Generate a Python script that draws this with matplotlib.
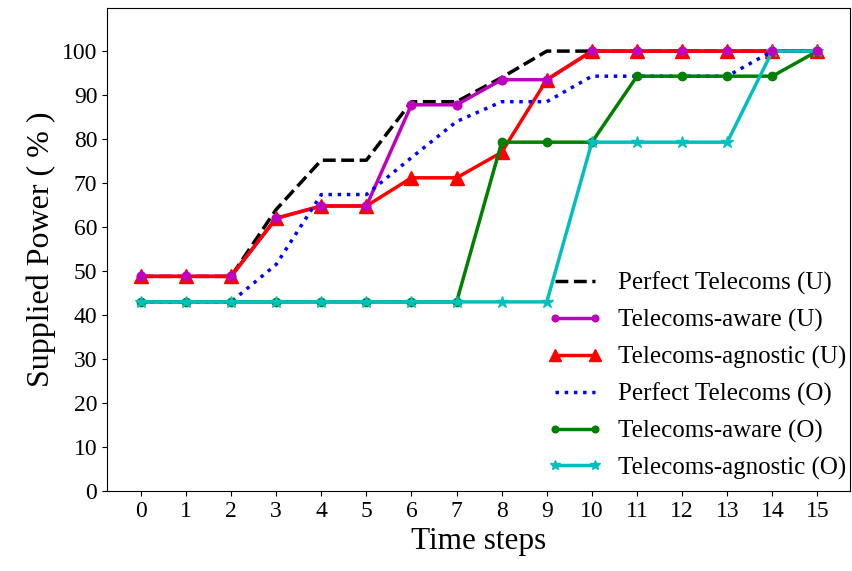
import matplotlib
matplotlib.use('Agg')
import matplotlib.pyplot as plt

# datos
pasos = list(range(16))
perfect_u = [48.8, 48.8, 48.8, 64, 75.2, 75.2, 88.5, 88.5, 94, 100, 100, 100, 100, 100, 100, 100]
aware_u = [48.8, 48.8, 48.8, 62, 64.8, 64.8, 87.8, 87.8, 93.5, 93.5, 100, 100, 100, 100, 100, 100]
agnostic_u = [48.8, 48.8, 48.8, 62, 64.8, 64.8, 71.2, 71.2, 77, 93.5, 100, 100, 100, 100, 100, 100]
perfect_o = [43, 43, 43, 51.5, 67.4, 67.4, 75.8, 84, 88.5, 88.5, 94.3, 94.3, 94.3, 94.3, 100, 100]
aware_o = [43, 43, 43, 43, 43, 43, 43, 43, 79.3, 79.3, 79.3, 94.3, 94.3, 94.3, 94.3, 100]
agnostic_o = [43, 43, 43, 43, 43, 43, 43, 43, 43, 43, 79.3, 79.3, 79.3, 79.3, 100, 100]

plt.rcParams['font.family'] = 'Liberation Serif'

fig = plt.figure(figsize=(8.52, 5.71), dpi=100)
ax = fig.add_axes([0.1256, 0.140, 0.872, 0.846])

ax.plot(pasos, perfect_u, '--', color='black', lw=2.5, label='Perfect Telecoms (U)')
ax.plot(pasos, aware_u, '-o', color='m', lw=2.5, ms=6, label='Telecoms-aware (U)')
ax.plot(pasos, agnostic_u, '-^', color='red', lw=2.5, ms=10, label='Telecoms-agnostic (U)')
ax.plot(pasos, perfect_o, ':', color='blue', lw=2.5, label='Perfect Telecoms (O)')
ax.plot(pasos, aware_o, '-o', color='green', lw=2.5, ms=6, label='Telecoms-aware (O)')
ax.plot(pasos, agnostic_o, '-*', color='c', lw=2.5, ms=9, label='Telecoms-agnostic (O)')

# re-dibujar para que los puntos queden encima
ax.plot(pasos, aware_u, 'o', color='m', ms=6)

ax.set_xlim(-0.75, 15.72)
ax.set_ylim(0, 109.8)
ax.set_xticks(pasos)
ax.set_yticks(range(0, 101, 10))
ax.tick_params(labelsize=17)
ax.set_xlabel('Time steps', fontsize=22.5)
ax.set_ylabel('Supplied Power ( % )', fontsize=23)

ax.legend(loc='lower right', bbox_to_anchor=(1.025, -0.023), frameon=False,
          fontsize=18, handlelength=2.2, labelspacing=0.55, numpoints=2,
          markerscale=0.8, handletextpad=0.6)

fig.savefig('out.png', dpi=100)
